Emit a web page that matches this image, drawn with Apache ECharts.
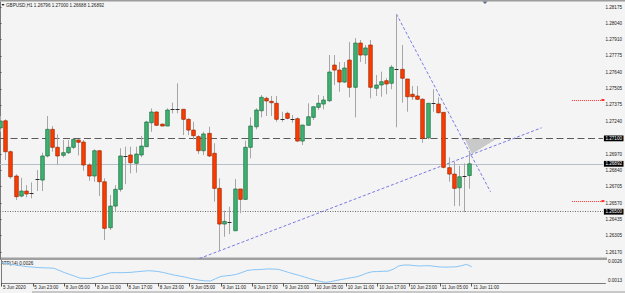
<!DOCTYPE html>
<html><head><meta charset="utf-8">
<script src="https://cdn.jsdelivr.net/npm/echarts@6/dist/echarts.min.js"></script>
<style>html,body{margin:0;padding:0;background:#f4f4f4;overflow:hidden}#c{width:625px;height:293px}</style>
</head><body><div id="c"></div>
<script>
// ---------- DATA ----------
const symbolTitle = 'GBPUSD,H1 1.26796 1.27000 1.26688 1.26892';
const indicatorTitle = 'ATR(14) 0.0026';
const timeTickIndex = [0,6,12,18,24,30,36,42,48,54,60,66,72,78,84,90];
const timeTickLabels = ['5 Jun 2020','5 Jun 23:00','8 Jun 05:00','8 Jun 11:00','8 Jun 17:00','8 Jun 23:00','9 Jun 05:00','9 Jun 11:00','9 Jun 17:00','9 Jun 23:00','10 Jun 05:00','10 Jun 11:00','10 Jun 17:00','10 Jun 23:00','11 Jun 05:00','11 Jun 11:00'];
const opens = [1.27185,1.27244,1.26991,1.26792,1.26628,1.26669,1.26650,1.26773,1.26759,1.26956,
1.27174,1.27027,1.26961,1.26983,1.27027,1.27087,1.27070,1.26882,1.26792,1.26999,
1.26745,1.26369,1.26546,1.26683,1.26956,1.26964,1.26896,1.26964,1.27032,1.27228,
1.27316,1.27217,1.27201,1.27338,1.27338,1.27338,1.27256,1.27168,1.27114,1.26999,
1.27141,1.26978,1.26691,1.26399,1.26424,1.26344,1.26686,1.26601,1.27027,1.27195,
1.27326,1.27428,1.27403,1.27387,1.27256,1.27305,1.27261,1.27261,1.27078,1.27207,
1.27272,1.27354,1.27381,1.27408,1.27700,1.27659,1.27561,1.27741,1.27518,1.27880,
1.27782,1.27864,1.27510,1.27537,1.27572,1.27551,1.27665,1.27665,1.27586,1.27461,
1.27447,1.27420,1.27105,1.27387,1.27381,1.27313,1.26860,1.26808,1.26696,1.26792,1.26796];
const highs = [1.27283,1.27256,1.27001,1.26806,1.26778,1.26718,1.26740,1.26841,1.26983,1.27283,
1.27201,1.27133,1.27087,1.27087,1.27105,1.27092,1.27087,1.26896,1.27010,1.27005,
1.26773,1.26636,1.26718,1.27019,1.27032,1.27032,1.27032,1.27119,1.27244,1.27346,
1.27321,1.27217,1.27346,1.27392,1.27551,1.27338,1.27264,1.27236,1.27127,1.27154,
1.27195,1.27060,1.26773,1.26508,1.26541,1.26767,1.26686,1.27081,1.27272,1.27346,
1.27455,1.27441,1.27447,1.27447,1.27318,1.27318,1.27291,1.27272,1.27209,1.27387,
1.27359,1.27455,1.27447,1.27782,1.27782,1.27725,1.27725,1.27889,1.27921,1.27905,
1.27864,1.27905,1.27619,1.27646,1.27592,1.27700,1.28118,1.27864,1.27586,1.27529,
1.27529,1.27428,1.27387,1.27502,1.27436,1.27313,1.26945,1.26909,1.26876,1.26896,1.27000];
const lows = [1.27152,1.26923,1.26770,1.26596,1.26618,1.26618,1.26609,1.26669,1.26669,1.26945,
1.26991,1.26882,1.26945,1.26972,1.27013,1.26961,1.26835,1.26753,1.26745,1.26628,
1.26268,1.26350,1.26500,1.26663,1.26726,1.26814,1.26819,1.26945,1.27032,1.27154,
1.27201,1.27201,1.27201,1.27305,1.27305,1.27127,1.27127,1.27092,1.26972,1.26964,
1.26947,1.26582,1.26186,1.26295,1.26317,1.26344,1.26487,1.26596,1.26937,1.27174,
1.27272,1.27283,1.27283,1.27236,1.27236,1.27256,1.27228,1.27073,1.27046,1.27207,
1.27250,1.27332,1.27338,1.27398,1.27537,1.27482,1.27553,1.27436,1.27272,1.27725,
1.27709,1.27428,1.27447,1.27441,1.27461,1.27502,1.27191,1.27392,1.27318,1.27414,
1.27414,1.27064,1.27092,1.27318,1.27305,1.26855,1.26745,1.26546,1.26546,1.26497,1.26688];
const closes = [1.27242,1.26991,1.26786,1.26623,1.26669,1.26645,1.26650,1.26765,1.26956,1.27174,
1.27027,1.26956,1.26983,1.27027,1.27092,1.27068,1.26882,1.26792,1.26999,1.26745,
1.26364,1.26546,1.26683,1.26956,1.26956,1.26901,1.26972,1.27037,1.27234,1.27316,
1.27207,1.27201,1.27332,1.27338,1.27338,1.27256,1.27168,1.27122,1.26999,1.27136,
1.26956,1.26691,1.26399,1.26421,1.26415,1.26686,1.26601,1.27027,1.27201,1.27332,
1.27436,1.27406,1.27392,1.27256,1.27256,1.27264,1.27261,1.27078,1.27209,1.27277,
1.27359,1.27387,1.27414,1.27643,1.27659,1.27561,1.27676,1.27518,1.27880,1.27782,
1.27840,1.27518,1.27537,1.27564,1.27545,1.27682,1.27665,1.27592,1.27441,1.27441,
1.27420,1.27100,1.27387,1.27387,1.27310,1.26863,1.26808,1.26691,1.26786,1.26792,1.26892];
const atrValues = [0.00253,0.00249,0.00242,0.00237,0.00231,0.00226,0.00223,0.00220,0.00218,0.00217,
0.00215,0.00200,0.00184,0.00171,0.00158,0.00144,0.00142,0.00142,0.00152,0.00162,
0.00173,0.00183,0.00183,0.00183,0.00184,0.00186,0.00190,0.00193,0.00197,0.00195,
0.00191,0.00184,0.00175,0.00166,0.00159,0.00152,0.00143,0.00135,0.00128,0.00124,
0.00123,0.00140,0.00156,0.00160,0.00164,0.00171,0.00184,0.00198,0.00204,0.00205,
0.00207,0.00210,0.00209,0.00207,0.00196,0.00184,0.00173,0.00163,0.00152,0.00140,
0.00129,0.00120,0.00113,0.00118,0.00126,0.00133,0.00140,0.00147,0.00153,0.00166,
0.00181,0.00190,0.00191,0.00193,0.00194,0.00208,0.00231,0.00238,0.00238,0.00234,
0.00231,0.00233,0.00233,0.00228,0.00224,0.00223,0.00224,0.00225,0.00233,0.00243,0.00226];
const priceTickValues = [1.28175,1.28040,1.27910,1.27775,1.27640,1.27505,1.27375,1.27240,1.26970,1.26840,1.26705,1.26570,1.26435,1.26305,1.26170];
const indicatorTickValues = [0.0013, 0.0026];
const levelDashed = 1.27100;
const levelBid = 1.26892;
const levelDotted = 1.26500;
const alertLevels = [1.27414, 1.26587];
const trendUp = [[38.24, 1.26117], [103.85, 1.27187]];
const trendDown = [[76, 1.28118], [94.05, 1.26663]];
const triangleZone = [[89.06, 1.27100], [95.3, 1.27100], [90.49, 1.26972]];

// ---------- LAYOUT ----------
const FONT = 'Liberation Sans';
const FS = 4.6;
const X_MIN = 0, X_MAX = 115.6;
const ALERT_X0 = 109.7;
const gridLeft = -2.7, gridWidth = 609.7;

const chart = echarts.init(document.getElementById('c'), null, {renderer: 'svg'});
const candleData = opens.map((o, i) => [i, o, closes[i], lows[i], highs[i]]);
const labelMap = {};
timeTickIndex.forEach((v, k) => labelMap[v] = timeTickLabels[k]);

function levelLabel(bg) {
  return {show: true, position: 'end', distance: 1, formatter: p => p.value.toFixed(5),
    backgroundColor: bg, color: '#fff', fontSize: FS, fontFamily: FONT, padding: [0.6, 1.5, 0.2, 1.5]};
}

chart.setOption({
  animation: false,
  backgroundColor: '#f4f4f4',
  grid: [
    {left: gridLeft, width: gridWidth, top: 2, height: 257},
    {left: gridLeft, width: gridWidth, top: 260, height: 23}
  ],
  xAxis: [
    {type: 'value', gridIndex: 0, min: X_MIN, max: X_MAX, show: false},
    {type: 'value', gridIndex: 1, min: X_MIN, max: X_MAX,
      axisLine: {show: true, lineStyle: {color: '#7a7a7a', width: 1}},
      splitLine: {show: false},
      axisTick: {show: true, customValues: timeTickIndex, length: 3.5, lineStyle: {color: '#555'}},
      axisLabel: {customValues: timeTickIndex, interval: 0, hideOverlap: false, formatter: v => labelMap[Math.round(v)] || '',
        align: 'left', margin: 2, padding: [0, 0, 0, 1.5], fontSize: FS, fontFamily: FONT, color: '#222'}}
  ],
  yAxis: [
    {type: 'value', gridIndex: 0, position: 'right', min: 1.26113, max: 1.28216,
      axisLine: {show: true, lineStyle: {color: '#7a7a7a'}},
      splitLine: {show: false},
      axisTick: {show: true, customValues: priceTickValues, interval: 0, length: 1.5, lineStyle: {color: '#555'}},
      axisLabel: {customValues: priceTickValues, interval: 0, hideOverlap: false, formatter: v => v.toFixed(5), margin: 2.5,
        fontSize: FS, fontFamily: FONT, color: '#222'}},
    {type: 'value', gridIndex: 1, position: 'right', min: 0.001084, max: 0.002744,
      axisLine: {show: true, lineStyle: {color: '#7a7a7a'}},
      splitLine: {show: false},
      axisTick: {show: false},
      axisLabel: {customValues: indicatorTickValues, interval: 0, hideOverlap: false, formatter: v => v.toFixed(4), margin: 2.5,
        fontSize: FS, fontFamily: FONT, color: '#222'}}
  ],
  series: [
    {
      type: 'custom', name: 'zone', xAxisIndex: 0, yAxisIndex: 0, z: 1, silent: true,
      data: [triangleZone.flat()],
      renderItem: (params, api) => {
        const pts = [];
        for (let k = 0; k < 3; k++) pts.push(api.coord([api.value(2 * k), api.value(2 * k + 1)]));
        return {type: 'polygon', shape: {points: pts}, style: {fill: '#c9c9c9'}};
      }
    },
    {
      type: 'line', name: 'trendUp', xAxisIndex: 0, yAxisIndex: 0, z: 3, data: trendUp,
      symbol: 'none', silent: true,
      lineStyle: {color: '#6b6be3', width: 0.9, type: [3, 2]},
      markLine: {
        silent: true, symbol: 'none', precision: 5, animation: false,
        data: [
          {yAxis: levelDashed, lineStyle: {color: '#5a5a5a', width: 1, type: [7, 3.5]}, label: levelLabel('#000')},
          {yAxis: levelBid, lineStyle: {color: '#b7c0c8', width: 1, type: 'solid'}, label: levelLabel('#000')},
          {yAxis: levelDotted, lineStyle: {color: '#6a6a6a', width: 1, type: [1, 1.5]}, label: levelLabel('#000')},
          ...alertLevels.map(v => [
            {coord: [ALERT_X0, v], lineStyle: {color: '#ff3030', width: 1, type: [1, 1]}, label: {show: false}, symbol: 'none'},
            {coord: [X_MAX, v], symbol: 'rect', symbolSize: [2, 3]}
          ])
        ]
      }
    },
    {
      type: 'line', name: 'trendDown', xAxisIndex: 0, yAxisIndex: 0, z: 3, data: trendDown,
      symbol: 'none', silent: true,
      lineStyle: {color: '#6b6be3', width: 0.9, type: [3, 2]}
    },
    {
      type: 'custom', name: 'candles', xAxisIndex: 0, yAxisIndex: 0, z: 5, clip: true,
      data: candleData, encode: {x: 0, y: [1, 2, 3, 4]},
      renderItem: (params, api) => {
        const i = api.value(0), o = api.value(1), c = api.value(2), l = api.value(3), h = api.value(4);
        const po = api.coord([i, o]), pc = api.coord([i, c]), pl = api.coord([i, l]), ph = api.coord([i, h]);
        const cx = Math.round(po[0]) + 0.5;
        const top = Math.min(po[1], pc[1]), bot = Math.max(po[1], pc[1]);
        const up = c > o;
        const children = [{type: 'line', shape: {x1: cx, y1: ph[1], x2: cx, y2: pl[1]}, style: {stroke: '#a6a6a6', lineWidth: 1}}];
        if (bot - top < 1.2) {
          const ym = Math.round((top + bot) / 2) + 0.5;
          children.push({type: 'line', shape: {x1: cx - 2, y1: ym, x2: cx + 2, y2: ym}, style: {stroke: '#2a2a2a', lineWidth: 1}});
        } else {
          children.push({type: 'rect', shape: {x: cx - 1.8, y: top, width: 3.6, height: bot - top},
            style: {fill: up ? '#3cb371' : '#ff3b00', stroke: up ? '#1f6b42' : '#9a2800', lineWidth: 0.7}});
        }
        return {type: 'group', children};
      }
    },
    {
      type: 'line', name: 'ATR', xAxisIndex: 1, yAxisIndex: 1, z: 3,
      data: atrValues.map((v, i) => [i, v]), symbol: 'none', silent: true,
      lineStyle: {color: '#87c4f5', width: 1}
    }
  ],
  graphic: [
    {type: 'rect', shape: {x: 0, y: 0, width: 625, height: 1.5}, style: {fill: '#9c9c9c'}, silent: true},
    {type: 'rect', shape: {x: 0, y: 257.6, width: 607, height: 2.4}, style: {fill: '#a0a0a0'}, silent: true},
    {type: 'rect', shape: {x: 32, y: 291.5, width: 593, height: 1}, style: {fill: '#9c9c9c'}, silent: true},
    {type: 'polygon', shape: {points: [[482.5, 1.5], [487.5, 1.5], [485, 4]]}, style: {fill: '#5a6a8a'}, silent: true},
    {type: 'polygon', shape: {points: [[1.5, 4], [4.5, 4], [3, 6]]}, style: {fill: '#222'}, silent: true},
    {type: 'text', x: 6, y: 5, style: {text: symbolTitle, fontSize: FS, fontFamily: FONT, fill: '#222', verticalAlign: 'middle'}, silent: true},
    {type: 'text', x: 1, y: 263.5, style: {text: indicatorTitle, fontSize: FS, fontFamily: FONT, fill: '#222', verticalAlign: 'middle'}, silent: true}
  ]
});
</script>
</body></html>
